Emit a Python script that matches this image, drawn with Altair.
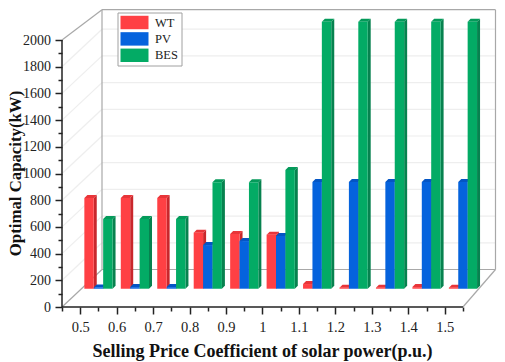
import altair as alt
import pandas as pd

categories = ["0.5", "0.6", "0.7", "0.8", "0.9", "1", "1.1", "1.2", "1.3", "1.4", "1.5"]
series = ["WT", "PV", "BES"]
wt = [680, 680, 680, 420, 410, 405, 35, 8, 8, 12, 8]
pv = [10, 12, 12, 327, 357, 395, 800, 800, 800, 800, 800]
bes = [522, 522, 522, 797, 797, 889, 2000, 2000, 2000, 2000, 2000]
front_colors = ["#ff4044", "#0563dd", "#03ab65"]
side_colors = ["#c9272c", "#0348ad", "#07824f"]
top_colors = ["#e83539", "#0455c4", "#049a5a"]

UNIT_X = 36.45
UNIT_Y = 0.1335
PLOT_W = 434
PLOT_H = 298
PAD_L = 54
PAD_T = 1
PAD_R = 1
PAD_B = 54
XMAX = PLOT_W / UNIT_X
YMAX = PLOT_H / UNIT_Y
N = len(categories)
DEPTH_X = 40 / UNIT_X
DEPTH_Y = 37.5 / UNIT_Y
WALL_R = (PLOT_W - 0.5) / UNIT_X
WALL_T = (PLOT_H - 0.7) / UNIT_Y
YTOP = 2000
BAR_W = 9.4 / UNIT_X
BASE = 137
SIDE_X = 3 / UNIT_X
SIDE_Y = 3 / UNIT_Y

xs = alt.Scale(domain=[0, XMAX], range=[0, PLOT_W], nice=False, zero=False)
ys = alt.Scale(domain=[0, YMAX], range=[PLOT_H, 0], nice=False, zero=False)

major_x = [i + 0.5 for i in range(N)]
minor_x = [float(i) for i in range(N + 1)]
x_values = sorted(major_x + minor_x)
label_js = "[" + ",".join(f"'{c}'" for c in categories) + "]"
major_y = list(range(0, 2001, 200))
minor_y = list(range(100, 2000, 200))

x_axis = alt.Axis(
    values=x_values,
    domain=False,
    grid=False,
    labelExpr=f"datum.value % 1 == 0.5 ? {label_js}[floor(datum.value)] : ''",
    labelFont="Liberation Serif",
    labelFontSize=14.5,
    labelColor="#222222",
    labelPadding=6,
    tickColor="#222222",
    tickWidth=1.5,
    tickSize={"condition": {"test": "datum.value % 1 == 0.5", "value": 7}, "value": 4},
    title="Selling Price Coefficient of solar power(p.u.)",
    titleFont="Liberation Serif",
    titleFontSize=18,
    titleFontWeight="bold",
    titleColor="#111111",
    titleX=200,
    titleY=49,
    titleBaseline="alphabetic",
    labelOverlap=False,
)
y_axis = alt.Axis(
    values=sorted(major_y + minor_y),
    domain=False,
    grid=False,
    labelExpr="datum.value % 200 == 0 ? datum.value : ''",
    labelFont="Liberation Serif",
    labelFontSize=14,
    labelColor="#222222",
    labelPadding=4.5,
    tickColor="#222222",
    tickWidth=1.5,
    tickSize={"condition": {"test": "datum.value % 200 == 0", "value": 7}, "value": 4},
    title="Optimal Capacity(kW)",
    titleFont="Liberation Serif",
    titleFontSize=16.8,
    titleFontWeight="bold",
    titleColor="#111111",
    titleX=-41.5,
    titleY=164,
    titleBaseline="alphabetic",
    labelOverlap=False,
)

X = alt.X("x:Q", scale=xs, axis=x_axis)
Y = alt.Y("y:Q", scale=ys, axis=y_axis, stack=None)


def segs(rows, color, width):
    df = pd.DataFrame(rows, columns=["x", "y", "x2", "y2"])
    return (
        alt.Chart(df)
        .mark_rule(color=color, strokeWidth=width)
        .encode(x=X, y=Y, x2="x2:Q", y2="y2:Q")
    )


grid_rows = []
for v in major_y[1:]:
    if v < 2000:
        grid_rows.append((DEPTH_X, v + DEPTH_Y, WALL_R, v + DEPTH_Y))
        grid_rows.append((0, v, DEPTH_X, v + DEPTH_Y))
grid_layer = segs(grid_rows, "#eeeeee", 1.2)

frame_rows = [
    (DEPTH_X, DEPTH_Y, DEPTH_X, WALL_T),
    (DEPTH_X, WALL_T, WALL_R, WALL_T),
    (WALL_R, WALL_T, WALL_R, DEPTH_Y),
    (DEPTH_X, DEPTH_Y, WALL_R, DEPTH_Y),
    (0, 0, DEPTH_X, DEPTH_Y),
    (N, 0, WALL_R, DEPTH_Y),
    (0, YTOP, DEPTH_X, WALL_T),
]
frame_layer = segs(frame_rows, "#a8a8a8", 1.2)

axis_rows = [(0, 0, N, 0), (0, 0, 0, YTOP)]
axis_layer = segs(axis_rows, "#222222", 1.5)

color_scale = alt.Scale(domain=series, range=front_colors)
legend = alt.Legend(
    orient="none",
    legendX=55.5,
    legendY=3.5,
    title=None,
    symbolType="M-1,-0.96H3V0.96H-1Z",
    symbolSize=196,
    symbolStrokeWidth=0,
    symbolOpacity=1,
    labelFont="Liberation Serif",
    labelFontSize=12.5,
    labelColor="#222222",
    labelOffset=20.5,
    rowPadding=2.4,
    columnPadding=0,
    columns=1,
    padding=3,
    fillColor="#ffffff",
    strokeColor="#a0a0a0",
    cornerRadius=0,
)

bar_layers = []
for si, (name, vals) in enumerate(zip(series, [wt, pv, bes])):
    offset = (si - 1.5) * BAR_W
    side_rows, top_rows, front_rows = [], [], []
    for ci, v in enumerate(vals):
        x0 = ci + 1 + offset
        x1 = x0 + BAR_W
        bid = f"{name}{ci}"
        crest = BASE + v
        front_rows.append(dict(series=name, x=x0, x2=x1, y=BASE, y2=crest))
        side_rows.append(dict(id=bid, x=x1, y=BASE, y2=crest))
        side_rows.append(dict(id=bid, x=x1 + SIDE_X, y=BASE + SIDE_Y, y2=crest + SIDE_Y))
        top_rows.append(dict(id=bid, x=x0, y=crest, y2=crest))
        top_rows.append(dict(id=bid, x=x0 + SIDE_X, y=crest + SIDE_Y, y2=crest))
        top_rows.append(dict(id=bid, x=x1, y=crest + SIDE_Y, y2=crest))
        top_rows.append(dict(id=bid, x=x1 + SIDE_X, y=crest + SIDE_Y, y2=crest + SIDE_Y))
    side = (
        alt.Chart(pd.DataFrame(side_rows))
        .mark_area(color=side_colors[si], interpolate="linear", opacity=1, orient="vertical")
        .encode(x=X, y=Y, y2=alt.Y2("y2:Q"), detail="id:N")
    )
    cap = (
        alt.Chart(pd.DataFrame(top_rows))
        .mark_area(color=top_colors[si], interpolate="linear", opacity=1, orient="vertical")
        .encode(x=X, y=Y, y2=alt.Y2("y2:Q"), detail="id:N")
    )
    front = (
        alt.Chart(pd.DataFrame(front_rows))
        .mark_rect(opacity=1)
        .encode(
            x=X,
            x2="x2:Q",
            y=Y,
            y2="y2:Q",
            color=alt.Color("series:N", scale=color_scale, legend=legend),
        )
    )
    bar_layers += [side, cap, front]

chart = (
    alt.layer(grid_layer, frame_layer, axis_layer, *bar_layers)
    .properties(
        width=PLOT_W,
        height=PLOT_H,
        padding={"left": PAD_L, "top": PAD_T, "right": PAD_R, "bottom": PAD_B},
        autosize=alt.AutoSizeParams(type="none", contains="content"),
        background="white",
    )
    .configure_view(stroke=None)
)
chart.save("out.html", embed_options={"renderer": "svg", "actions": False})
